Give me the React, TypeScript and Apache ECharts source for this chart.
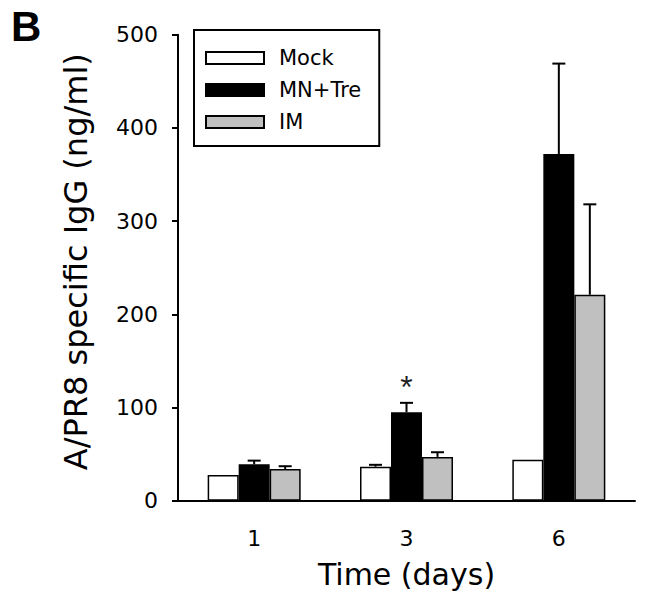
import React, { useEffect, useRef } from 'react';
import * as echarts from 'echarts';

const categories = ['1', '3', '6'];
const seriesNames = ['Mock', 'MN+Tre', 'IM'];
const mockValues = [27.5, 36.5, 44];
const mockErrors = [0, 2, 0];
const mnTreValues = [39, 95, 372];
const mnTreErrors = [4, 10, 97];
const imValues = [34, 47, 221];
const imErrors = [3, 5, 97];
const mnTreMarks = ['', '*', ''];
const mockMarks = ['', '', ''];
const imMarks = ['', '', ''];

const BAR_W = 31;
const FONT = 'DejaVu Sans';

export default function App() {
  const ref = useRef<HTMLDivElement>(null);

  useEffect(() => {
    if (!ref.current) return;
    const chart = echarts.init(ref.current, undefined, { renderer: 'svg' });

    const groups = [
      { values: mockValues, errors: mockErrors, marks: mockMarks },
      { values: mnTreValues, errors: mnTreErrors, marks: mnTreMarks },
      { values: imValues, errors: imErrors, marks: imMarks },
    ];
    const errData: any[] = [];
    const errMarks: string[] = [];
    groups.forEach((g, gi) => {
      g.values.forEach((v, ci) => {
        errData.push([gi, ci, v, g.errors[ci]]);
        errMarks.push(g.marks[ci]);
      });
    });

    const fills = ['#ffffff', '#000000', '#c0c0c0'];

    const option: any = {
      animation: false,
      backgroundColor: '#ffffff',
      title: {
        text: 'B',
        left: 6,
        top: 0,
        textStyle: { fontFamily: 'Liberation Sans', fontWeight: 'bold', fontSize: 42, color: '#000' },
      },
      legend: {
        data: seriesNames,
        orient: 'vertical',
        left: 194,
        top: 30,
        padding: [17.5, 18, 13.5, 11],
        itemWidth: 58,
        itemHeight: 12,
        itemGap: 11,
        icon: 'rect',
        borderColor: '#000',
        borderWidth: 2,
        textStyle: {
          fontFamily: FONT,
          fontSize: 21,
          color: '#000',
          lineHeight: 20,
          padding: [0, 0, 0, 10],
        },
      },
      grid: { left: 178, right: 11, top: 34.7, bottom: 103.3, containLabel: false },
      xAxis: {
        type: 'category',
        data: categories,
        name: 'Time (days)',
        nameLocation: 'middle',
        nameGap: 59,
        nameTextStyle: { fontFamily: FONT, fontSize: 30, color: '#000' },
        axisLine: { lineStyle: { color: '#000', width: 2 } },
        axisTick: { alignWithLabel: true, length: 6, lineStyle: { color: '#000', width: 2 } },
        axisLabel: { fontFamily: FONT, fontSize: 22, color: '#000', margin: 27 },
      },
      yAxis: {
        type: 'value',
        min: 0,
        max: 500,
        interval: 100,
        name: 'A/PR8 specific IgG (ng/ml)',
        nameLocation: 'middle',
        nameGap: 86,
        nameRotate: 90,
        nameTextStyle: { fontFamily: FONT, fontSize: 32, color: '#000', padding: [0, 0, 0, 12] },
        axisLine: { show: true, lineStyle: { color: '#000', width: 2 } },
        axisTick: { show: true, length: 6, lineStyle: { color: '#000', width: 2 } },
        splitLine: { show: false },
        axisLabel: { fontFamily: FONT, fontSize: 22, color: '#000', margin: 20 },
      },
      series: [
        ...groups.map((g, gi) => ({
          type: 'bar',
          name: seriesNames[gi],
          data: g.values,
          barWidth: BAR_W,
          barGap: '0%',
          itemStyle: { color: fills[gi], borderColor: '#000', borderWidth: 1.5 },
        })),
        {
          type: 'custom',
          clip: false,
          z: 5,
          encode: { x: 1, y: 2 },
          data: errData,
          renderItem: (params: any, api: any) => {
            const gi = api.value(0);
            const ci = api.value(1);
            const v = api.value(2);
            const e = api.value(3);
            const base = api.coord([ci, v]);
            const top = api.coord([ci, v + e]);
            const x = base[0] + (gi - 1) * BAR_W;
            const children: any[] = [];
            if (e > 0) {
              children.push({
                type: 'line',
                shape: { x1: x, y1: base[1], x2: x, y2: top[1] },
                style: { stroke: '#000', lineWidth: 2 },
              });
              children.push({
                type: 'line',
                shape: { x1: x - 6.5, y1: top[1], x2: x + 6.5, y2: top[1] },
                style: { stroke: '#000', lineWidth: 2 },
              });
            }
            const mark = errMarks[params.dataIndex];
            if (mark) {
              children.push({
                type: 'text',
                x: x,
                y: top[1],
                style: {
                  text: mark,
                  fontFamily: 'Liberation Sans',
                  fontSize: 32,
                  fill: '#222',
                  align: 'center',
                  verticalAlign: 'bottom',
                },
              });
            }
            return { type: 'group', children };
          },
        },
      ],
    };

    chart.setOption(option);
    return () => chart.dispose();
  }, []);

  return (
    <div
      ref={ref}
      style={{ position: 'absolute', left: 0, top: 0, width: 646, height: 604, background: '#fff' }}
    />
  );
}
